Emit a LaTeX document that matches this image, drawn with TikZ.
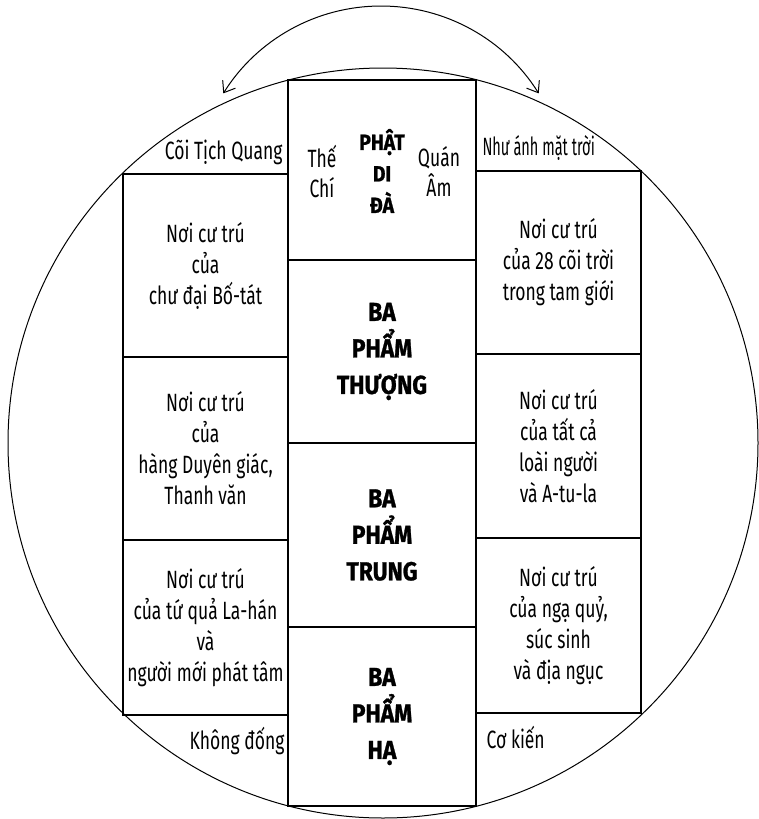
\documentclass[tikz,border=0pt]{standalone}
\usepackage{fontspec}
\setmainfont{Fira Sans}[FakeStretch=0.70]
\newfontfamily\midfont{Fira Sans}[FakeStretch=0.88, BoldFeatures={FakeBold=1}]
\usetikzlibrary{arrows.meta}
\begin{document}
\begin{tikzpicture}[x=1pt,y=-1pt,
  line width=1.1pt,
  cell/.style={draw, line width=1.1pt, inner sep=0pt, align=center,
    minimum width=165pt, font=\fontsize{25}{31}\selectfont},
  midcell/.style={draw, line width=1.1pt, inner sep=0pt, align=center,
    minimum width=188pt, font=\midfont\bfseries\fontsize{26}{36.5}\selectfont},
  lab/.style={inner sep=0pt, font=\fontsize{25}{31}\selectfont},
  small/.style={inner sep=0pt, align=center, font=\fontsize{25}{30}\selectfont},
  phat/.style={inner sep=0pt, align=center, font=\midfont\bfseries\fontsize{22}{31.5}\selectfont},
  swap/.style={line width=1pt, {Straight Barb[length=10pt,width=15pt,line width=1pt]}-{Straight Barb[length=10pt,width=15pt,line width=1pt]}}
  ]
\useasboundingbox (0,0) rectangle (759,819);
% outer circle
\node[draw, circle, line width=1pt, minimum size=750pt, inner sep=0pt] (world) at (383,443) {};
% middle column
\node[midcell, minimum height=180pt] (m0) at (382,170) {};
\node[midcell, minimum height=183pt] (m1) at (382,351.5) {BA\\PHẨM\\THƯỢNG};
\node[midcell, minimum height=184pt] (m2) at (382,535) {BA\\PHẨM\\TRUNG};
\node[midcell, minimum height=179pt] (m3) at (382,716.5) {BA\\PHẨM\\HẠ};
% top of middle column
\node[small] (the) at (322,171) {Thế\\Chí};
\node[phat] (pdd) at (382,171) {PHẬT\\DI\\ĐÀ};
\node[small] (quan) at (439,171) {Quán\\Âm};
% left column
\node[cell, minimum height=183pt] (l1) at (205.5,265.5) {Nơi cư trú\\của\\chư đại Bố-tát};
\node[cell, minimum height=183pt] (l2) at (205.5,448.5) {Nơi cư trú\\của\\hàng Duyên giác,\\Thanh văn};
\node[cell, minimum height=175pt] (l3) at (205.5,627.5) {Nơi cư trú\\của tứ quả La-hán\\và\\người mới phát tâm};
% right column
\node[cell, minimum height=183pt] (r1) at (558.5,262.5) {Nơi cư trú\\của 28 cõi trời\\trong tam giới};
\node[cell, minimum height=184pt] (r2) at (558.5,446) {Nơi cư trú\\của tất cả\\loài người\\và A-tu-la};
\node[cell, minimum height=175pt] (r3) at (558.5,625.5) {Nơi cư trú\\của ngạ quỷ,\\súc sinh\\và địa ngục};
% labels outside boxes
\node[lab, anchor=base east] (tq) at (283,159) {Cõi Tịch Quang};
\node[lab, anchor=base west] (nhu) at (482,155) {\scalebox{0.83}[1]{Như ánh mặt trời}};
\node[lab, anchor=base east] (kd) at (285,749) {Không đống};
\node[lab, anchor=base west] (ck) at (486,748) {Cơ kiến};
% arrow above
\coordinate (al) at (223.3,93.4);
\coordinate (atop) at (381,6);
\coordinate (ar) at (538.7,93.4);
\draw[swap] (al) .. controls (257.3,39) and (316.9,6) .. (atop)
  .. controls (445.1,6) and (504.7,39) .. (ar);
\end{tikzpicture}
\end{document}
